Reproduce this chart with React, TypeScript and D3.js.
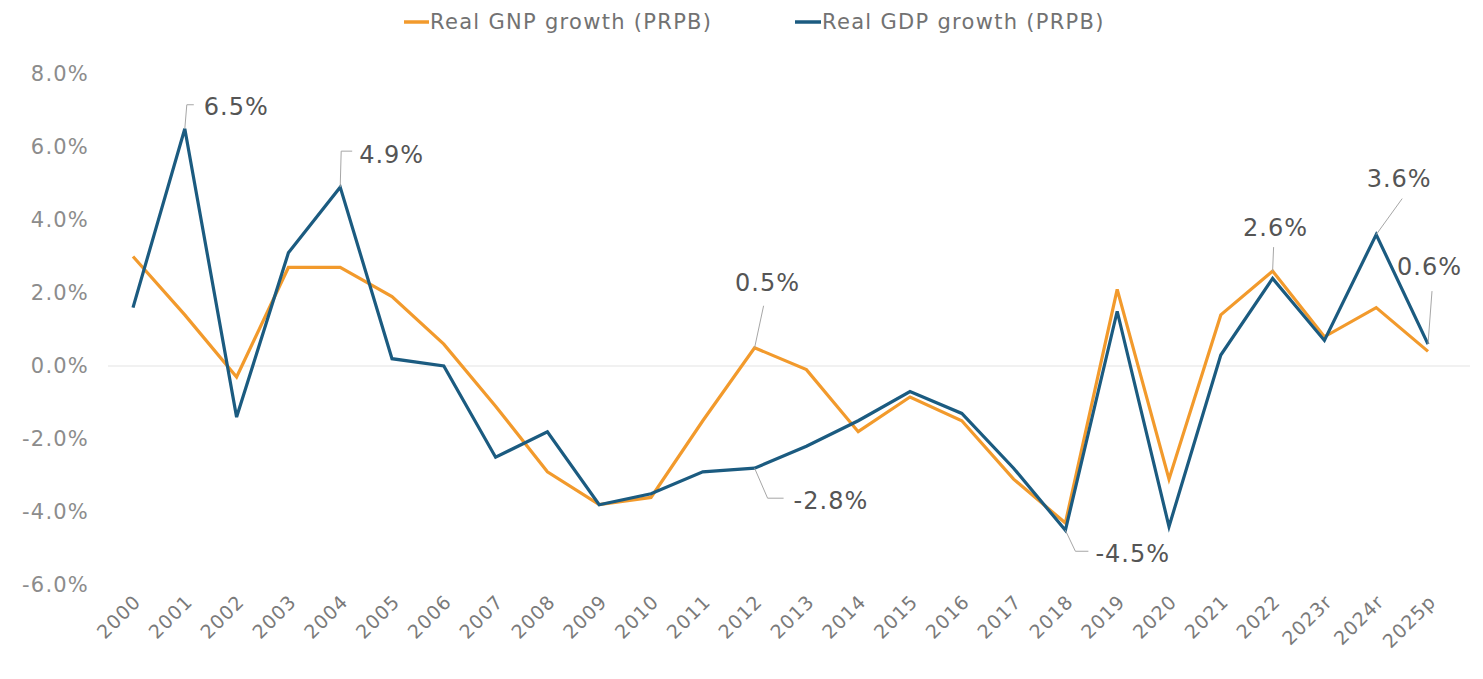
import * as d3 from 'd3';

const years = ['2000', '2001', '2002', '2003', '2004', '2005', '2006', '2007', '2008', '2009', '2010', '2011', '2012',
  '2013', '2014', '2015', '2016', '2017', '2018', '2019', '2020', '2021', '2022', '2023r', '2024r', '2025p'];

const gnpGrowth = [3.0, 1.4, -0.3, 2.7, 2.7, 1.9, 0.6, -1.1, -2.9, -3.8, -3.6, -1.5, 0.5,
  -0.1, -1.8, -0.85, -1.5, -3.1, -4.3, 2.1, -3.1, 1.4, 2.6, 0.8, 1.6, 0.4];

const gdpGrowth = [1.6, 6.5, -1.4, 3.1, 4.9, 0.2, 0.0, -2.5, -1.8, -3.8, -3.5, -2.9, -2.8,
  -2.2, -1.5, -0.7, -1.3, -2.8, -4.5, 1.5, -4.4, 0.3, 2.4, 0.7, 3.6, 0.6];

const yTicks = [-6, -4, -2, 0, 2, 4, 6, 8];

const seriesNames = ['Real GNP growth (PRPB)', 'Real GDP growth (PRPB)'];

// which points get a value label
const labelled = [
  { series: 'gdp', year: '2001' },
  { series: 'gdp', year: '2004' },
  { series: 'gnp', year: '2012' },
  { series: 'gdp', year: '2012' },
  { series: 'gdp', year: '2018' },
  { series: 'gnp', year: '2022' },
  { series: 'gdp', year: '2024r' },
  { series: 'gdp', year: '2025p' },
];

// leader line shapes, relative to the point: elbow, end of leader, text anchor (centre line)
const leaderLayout: Record<string, { elbow: [number, number]; end: [number, number]; text: [number, number]; anchor: string }> = {
  'gdp-2001': { elbow: [2, -24], end: [9, -24], text: [19, -22], anchor: 'start' },
  'gdp-2004': { elbow: [1, -36], end: [12, -36], text: [19, -33], anchor: 'start' },
  'gnp-2012': { elbow: [9, -42], end: [9, -42], text: [13, -65], anchor: 'middle' },
  'gdp-2012': { elbow: [13, 30], end: [29, 30], text: [39, 32], anchor: 'start' },
  'gdp-2018': { elbow: [10, 21], end: [23, 21], text: [30, 23], anchor: 'start' },
  'gnp-2022': { elbow: [1, -24], end: [1, -24], text: [3, -44], anchor: 'middle' },
  'gdp-2024r': { elbow: [26, -36], end: [26, -36], text: [23, -56], anchor: 'middle' },
  'gdp-2025p': { elbow: [4, -53], end: [4, -53], text: [-31, -78], anchor: 'start' },
};

const ORANGE = '#F29A2C';
const BLUE = '#1B5B80';
const FONT = '"DejaVu Sans", sans-serif';

export default function App() {
  const width = 1483;
  const height = 679;

  const x = d3.scalePoint<string>().domain(years).range([133, 1428]);
  const y = d3.scaleLinear().domain([-6, 8]).range([585, 74]);

  const line = d3
    .line<number>()
    .x((_, i) => x(years[i]) as number)
    .y((d) => y(d));

  const fmt = (v: number) => `${v.toFixed(1)}%`;

  return (
    <svg width={width} height={height} style={{ position: 'absolute', left: 0, top: 0, background: '#fff' }}>
      {/* legend */}
      <g fontFamily={FONT} fontSize={21} letterSpacing={1.3} fill="#727272">
        <line x1={404} x2={429} y1={22} y2={22} stroke={ORANGE} strokeWidth={3.5} />
        <text x={430} y={22} dy="0.35em">{seriesNames[0]}</text>
        <line x1={795} x2={821} y1={22} y2={22} stroke={BLUE} strokeWidth={3.5} />
        <text x={822} y={22} dy="0.35em">{seriesNames[1]}</text>
      </g>

      {/* y axis labels */}
      <g fontFamily={FONT} fontSize={21} letterSpacing={1.2} fill="#8c8c8c" textAnchor="end">
        {yTicks.map((t) => (
          <text key={t} x={89} y={y(t)} dy="0.35em">
            {fmt(t)}
          </text>
        ))}
      </g>

      {/* zero line */}
      <line x1={108} x2={1470} y1={y(0)} y2={y(0)} stroke="#ededed" strokeWidth={1.5} />

      {/* x axis labels */}
      <g fontFamily={FONT} fontSize={19} letterSpacing={1} fill="#7a7a7a" textAnchor="end">
        {years.map((yr) => (
          <text key={yr} transform={`translate(${(x(yr) as number) + 9},${603}) rotate(-45)`}>
            {yr}
          </text>
        ))}
      </g>

      {/* series */}
      <path d={line(gnpGrowth) as string} fill="none" stroke={ORANGE} strokeWidth={3.2} strokeLinejoin="miter" />
      <path d={line(gdpGrowth) as string} fill="none" stroke={BLUE} strokeWidth={3.2} strokeLinejoin="miter" />

      {/* data labels */}
      <g fontFamily={FONT} fontSize={24} letterSpacing={1} fill="#555">
        {labelled.map(({ series, year }) => {
          const key = `${series}-${year}`;
          const values = series === 'gdp' ? gdpGrowth : gnpGrowth;
          const v = values[years.indexOf(year)];
          const px = x(year) as number;
          const py = y(v);
          const l = leaderLayout[key];
          const pts = [
            [px, py],
            [px + l.elbow[0], py + l.elbow[1]],
            [px + l.end[0], py + l.end[1]],
          ];
          return (
            <g key={key}>
              <polyline points={pts.map((p) => p.join(',')).join(' ')} fill="none" stroke="#a6a6a6" strokeWidth={1} />
              <text x={px + l.text[0]} y={py + l.text[1]} dy="0.35em" textAnchor={l.anchor}>
                {fmt(v)}
              </text>
            </g>
          );
        })}
      </g>
    </svg>
  );
}
